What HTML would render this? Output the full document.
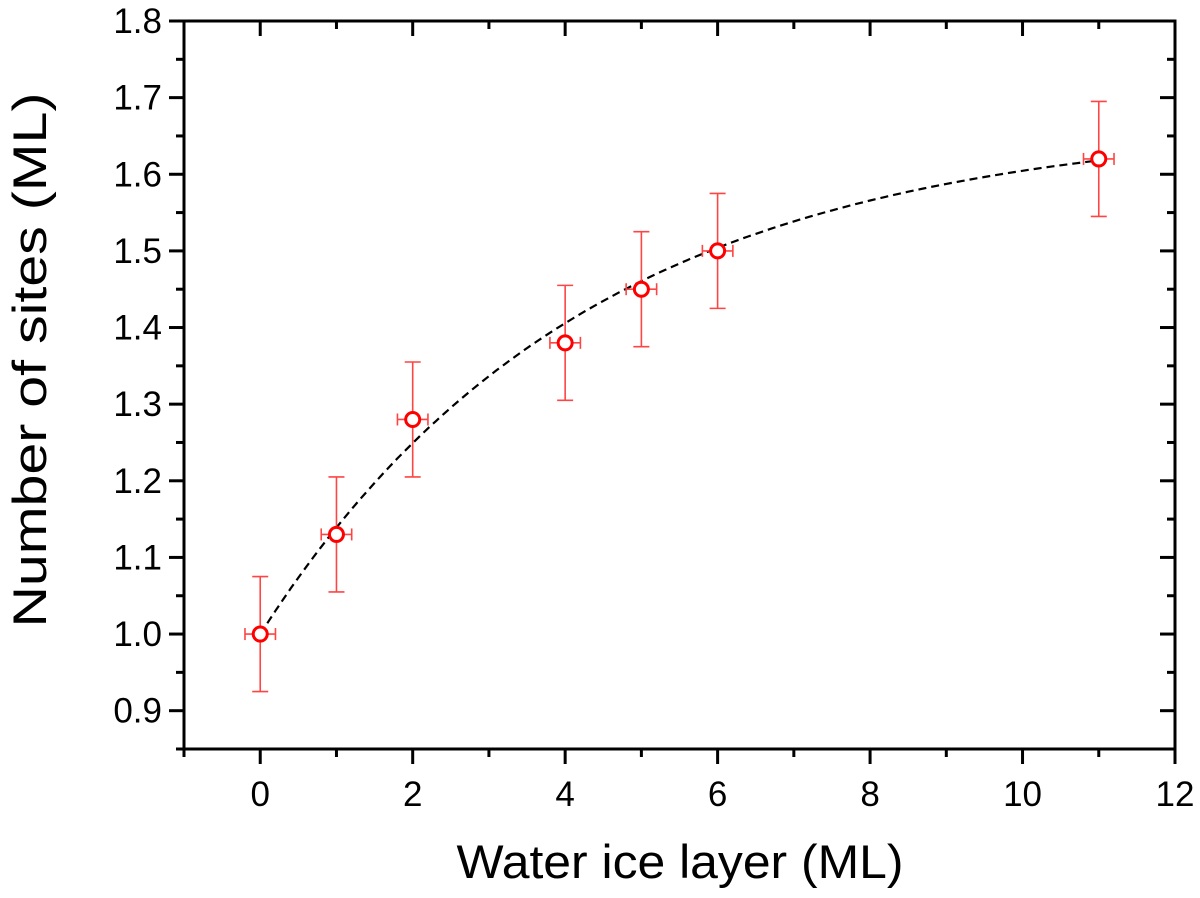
<!DOCTYPE html>
<html><head><meta charset="utf-8"><style>
html,body{margin:0;padding:0;background:#fff;}
svg{display:block;font-family:"Liberation Sans",Arial,sans-serif;}
</style></head><body>
<svg id="chart" width="1200" height="898" viewBox="0 0 1200 898" xmlns="http://www.w3.org/2000/svg">
<g id="axes"></g>
<g id="marks"></g>
<text x="680" y="878" font-size="47" text-anchor="middle" textLength="447" lengthAdjust="spacingAndGlyphs">Water ice layer (ML)</text>
<text transform="translate(46,360) rotate(-90)" font-size="47" text-anchor="middle" textLength="535" lengthAdjust="spacingAndGlyphs">Number of sites (ML)</text>
</svg>
<script>
const xValues = [0, 1, 2, 4, 5, 6, 11];
const yValues = [1.0, 1.13, 1.28, 1.38, 1.45, 1.50, 1.62];
const yErrors = [0.075, 0.075, 0.075, 0.075, 0.075, 0.075, 0.075];
const xErrors = [0.2, 0.2, 0.2, 0.2, 0.2, 0.2, 0.2];
const xTickLabels = ["0", "2", "4", "6", "8", "10", "12"];
const yTickLabels = ["0.9", "1.0", "1.1", "1.2", "1.3", "1.4", "1.5", "1.6", "1.7", "1.8"];
const fitParams = [1.67, 0.67, 4.3]; // asymptote, amplitude, tau

const L=184,R=1175,T=21,B=749;
const xMin=-1,xMax=12,yMin=0.85,yMax=1.8;
const sx=v=>L+(v-xMin)/(xMax-xMin)*(R-L);
const sy=v=>B-(v-yMin)/(yMax-yMin)*(B-T);
const NS="http://www.w3.org/2000/svg";
function mk(tag,attrs,parent){const e=document.createElementNS(NS,tag);for(const k in attrs)e.setAttribute(k,attrs[k]);parent.appendChild(e);return e;}
const axes=document.getElementById('axes');
const marks=document.getElementById('marks');
let f=mk('rect',{x:L,y:T,width:R-L,height:B-T,fill:'none',stroke:'#000','stroke-width':3},axes);


for(let v=-1;v<=12;v++){
  const major=v%2===0;const x=sx(v);
  let t=mk('line',{x1:x,x2:x,y1:B,y2:B+(major?15:8),stroke:'#000','stroke-width':3},axes);
  
  
  let t2=mk('line',{x1:x,x2:x,y1:T,y2:T+(major?15:8),stroke:'#000','stroke-width':3},axes);
  
  
}
xTickLabels.forEach(s=>{
  const tx=mk('text',{x:sx(parseFloat(s)),y:806,'font-size':35,'text-anchor':'middle'},axes);
  tx.textContent=s;
  
  
});
for(let i=0;i<=19;i++){
  const v=0.85+i*0.05;const major=i%2===1;const y=sy(v);
  let t=mk('line',{x1:L-(major?15:8),x2:L,y1:y,y2:y,stroke:'#000','stroke-width':3},axes);
  
  
  let t2=mk('line',{x1:R-(major?15:8),x2:R,y1:y,y2:y,stroke:'#000','stroke-width':3},axes);
  
  
}
yTickLabels.forEach(s=>{
  const tx=mk('text',{x:162,y:sy(parseFloat(s))+12,'font-size':35,'text-anchor':'end'},axes);
  tx.textContent=s;
  
  
});
let d='';
for(let i=0;i<=110;i++){const x=i*0.1;const y=fitParams[0]-fitParams[1]*Math.exp(-x/fitParams[2]);d+=(i?'L':'M')+sx(x).toFixed(1)+','+sy(y).toFixed(1);}
let fit=mk('path',{d:d,fill:'none',stroke:'#000','stroke-width':2.2,'stroke-dasharray':'8,5'},marks);


xValues.forEach((xv,i)=>{
  const yv=yValues[i],x=sx(xv),y=sy(yv);
  const g=mk('g',{stroke:'#f44','stroke-width':1.6,fill:'none'},marks);
  
  
  const y1=sy(yv+yErrors[i]),y2=sy(yv-yErrors[i]),x1=sx(xv-xErrors[i]),x2=sx(xv+xErrors[i]);
  mk('line',{x1:x,x2:x,y1:y1,y2:y2},g);
  mk('line',{x1:x-8,x2:x+8,y1:y1,y2:y1},g);
  mk('line',{x1:x-8,x2:x+8,y1:y2,y2:y2},g);
  mk('line',{x1:x1,x2:x2,y1:y,y2:y},g);
  mk('line',{x1:x1,x2:x1,y1:y-6,y2:y+6},g);
  mk('line',{x1:x2,x2:x2,y1:y-6,y2:y+6},g);
  const c=mk('circle',{cx:x,cy:y,r:7,fill:'#fff',stroke:'#f00','stroke-width':3},marks);
  
  
});
</script>
</body></html>
